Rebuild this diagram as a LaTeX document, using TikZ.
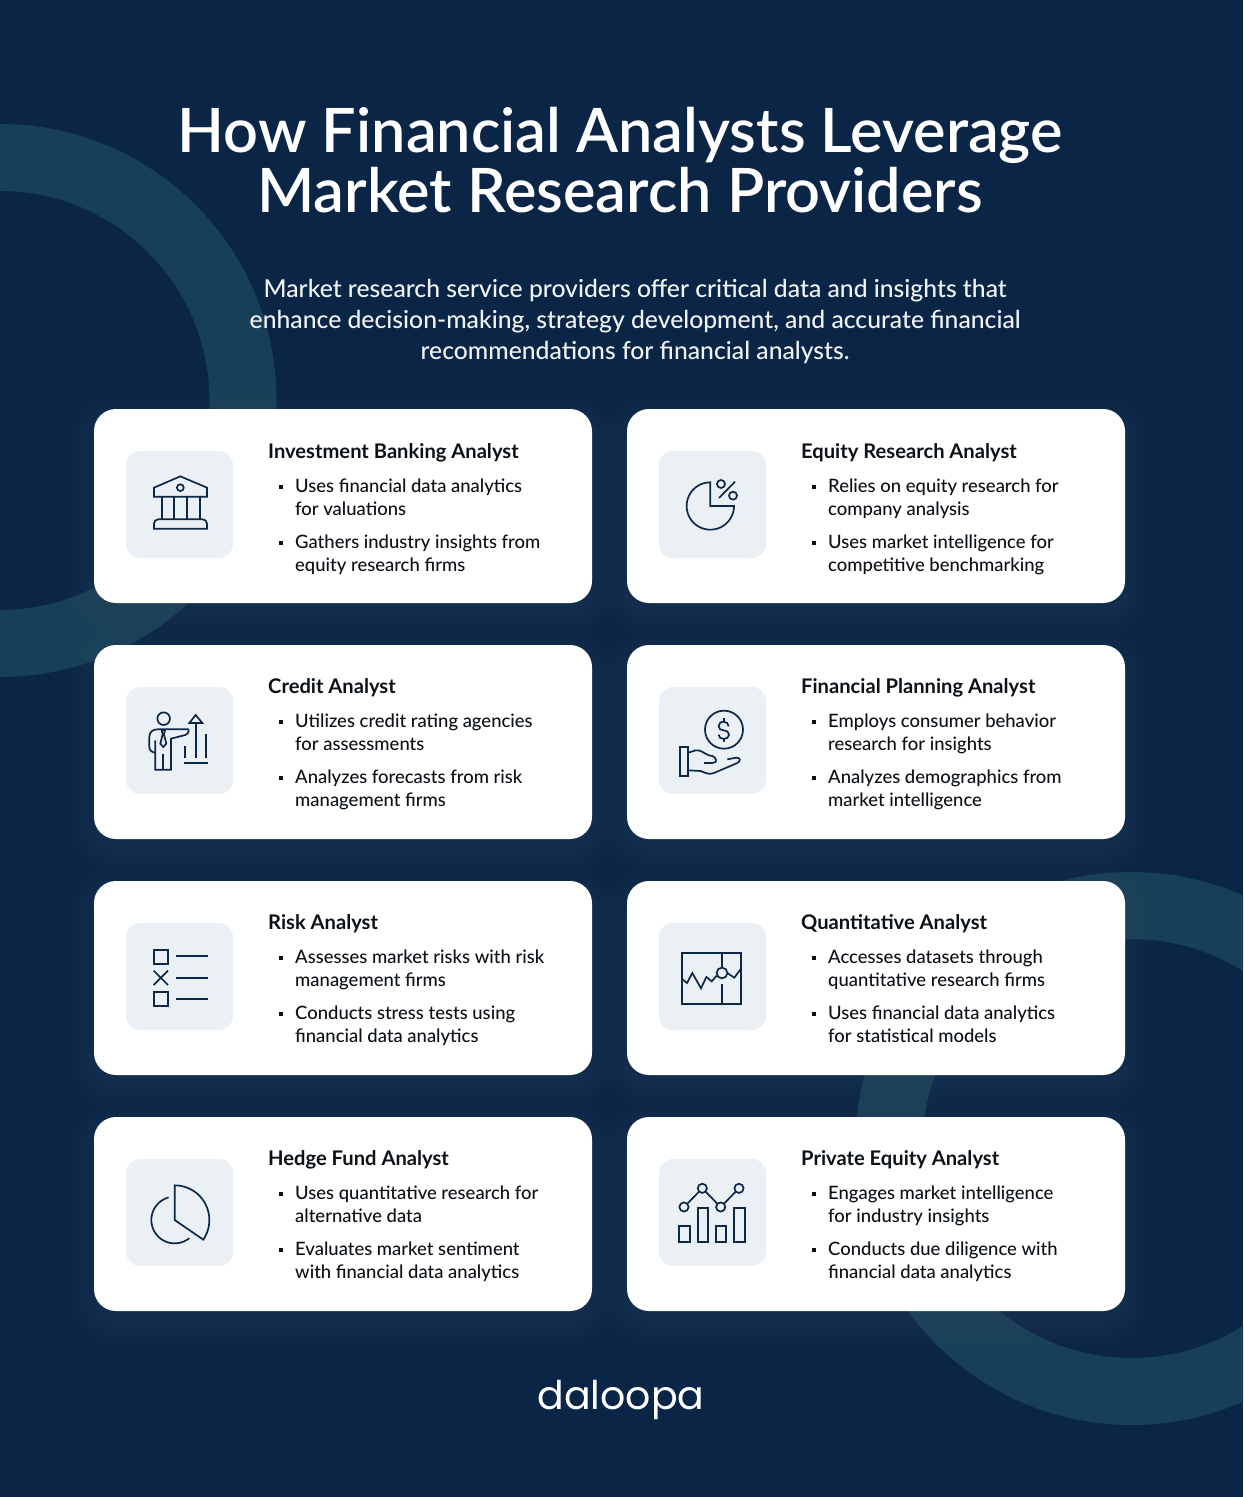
\documentclass[tikz,border=0pt]{standalone}
\usepackage{fontspec}
\setmainfont{Lato Medium}
\newfontfamily\headfont{Lato Bold}
\newfontfamily\titlefont{Lato Semibold}
\newfontfamily\logofont{Poppins}
\definecolor{bgc}{HTML}{0A2545}
\definecolor{ringc}{HTML}{173F58}
\definecolor{glowc}{HTML}{9FC0D0}
\definecolor{tilec}{HTML}{EBF0F4}
\definecolor{inkc}{HTML}{0D2847}
\definecolor{textc}{HTML}{0B1116}
\definecolor{introc}{HTML}{F1F4F6}
\tikzset{
  cardbox/.style={fill=white,rounded corners=22pt,minimum width=498pt,minimum height=194pt,anchor=north west,inner sep=0pt,outer sep=0pt},
  tilebox/.style={fill=tilec,rounded corners=14pt,minimum width=107pt,minimum height=107pt,anchor=north west,inner sep=0pt,outer sep=0pt},
  cardhead/.style={anchor=base west,inner sep=0pt,text=textc,font=\headfont\fontsize{20.15}{24}\selectfont},
  cardline/.style={anchor=base west,inner sep=0pt,text=textc,font=\fontsize{18.45}{22}\selectfont},
  bulletdot/.style={fill=textc,minimum size=3.6pt,inner sep=0pt,outer sep=0pt},
  ico/.style={draw=inkc,line width=1.7pt},
  ringfill/.style={fill=ringc,even odd rule},
  titleline/.style={anchor=base,inner sep=0pt,text=white,font=\titlefont\fontsize{61.2}{61}\selectfont},
  introline/.style={anchor=base,inner sep=0pt,text=introc,font=\fontsize{24.7}{31}\selectfont},
}
\newcommand{\cardglow}[2]{%
  \foreach \g in {-2,2,...,26}{%
    \fill[glowc,opacity=.007,rounded corners={22pt+\g pt}] ({#1-\g},{#2+10-\g}) rectangle ({#1+498+\g},{#2+194+10+\g});
  }%
}
% #9 is the vertical shift of the text within the card
\newcommand{\card}[9]{%
  \node[cardbox] (#1) at (#2,#3) {};
  \node[tilebox] (#1tile) at ({#2+32},{#3+42}) {};
  \node[cardhead] (#1head) at ({#2+174},{#3+49.5+#9}) {#4};
  \node[bulletdot] (#1b1) at ({#2+187},{#3+78+#9}) {};
  \node[cardline] (#1l1) at ({#2+201},{#3+83+#9}) {#5};
  \node[cardline] (#1l2) at ({#2+201},{#3+106+#9}) {#6};
  \node[bulletdot] (#1b2) at ({#2+187},{#3+134+#9}) {};
  \node[cardline] (#1l3) at ({#2+201},{#3+139+#9}) {#7};
  \node[cardline] (#1l4) at ({#2+201},{#3+162+#9}) {#8};
}
\begin{document}
\begin{tikzpicture}[x=1pt,y=-1pt]
\path[use as bounding box,fill=bgc] (0,0) rectangle (1243,1497);
\begin{scope}
\clip (0,0) rectangle (1243,1497);
\fill[ringfill] (0,400.5) circle (276.5pt) (0,400.5) circle (209.5pt);
\fill[ringfill] (1131.5,1148.5) circle (276.5pt) (1131.5,1148.5) circle (209.5pt);
\end{scope}

\node[titleline] (title1) at (620,152) {How Financial Analysts Leverage};
\node[titleline] (title2) at (620,212) {Market Research Providers};

\node[introline] (intro1) at (635,297) {Market research service providers offer critical data and insights that};
\node[introline] (intro2) at (635,328) {enhance decision-making, strategy development, and accurate financial};
\node[introline] (intro3) at (635,359) {recommendations for financial analysts.};

\cardglow{94}{409}\cardglow{627}{409}
\cardglow{94}{645}\cardglow{627}{645}
\cardglow{94}{881}\cardglow{627}{881}
\cardglow{94}{1117}\cardglow{627}{1117}

\card{a}{94}{409}{Investment Banking Analyst}{Uses financial data analytics}{for valuations}{Gathers industry insights from}{equity research firms}{0}
\card{b}{627}{409}{Equity Research Analyst}{Relies on equity research for}{company analysis}{Uses market intelligence for}{competitive benchmarking}{0}
\card{c}{94}{645}{Credit Analyst}{Utilizes credit rating agencies}{for assessments}{Analyzes forecasts from risk}{management firms}{-1}
\card{d}{627}{645}{Financial Planning Analyst}{Employs consumer behavior}{research for insights}{Analyzes demographics from}{market intelligence}{-1}
\card{e}{94}{881}{Risk Analyst}{Assesses market risks with risk}{management firms}{Conducts stress tests using}{financial data analytics}{-1}
\card{f}{627}{881}{Quantitative Analyst}{Accesses datasets through}{quantitative research firms}{Uses financial data analytics}{for statistical models}{-1}
\card{g}{94}{1117}{Hedge Fund Analyst}{Uses quantitative research for}{alternative data}{Evaluates market sentiment}{with financial data analytics}{-1}
\card{h}{627}{1117}{Private Equity Analyst}{Engages market intelligence}{for industry insights}{Conducts due diligence with}{financial data analytics}{-1}

% bank
\begin{scope}[shift={(126,451)},x=.3333pt,y=-.3333pt,ico]
\draw (84,110) -- (163,76) -- (243,110) -- (243,137) -- (84,137) -- cycle;
\draw (163,110) circle (3.4pt);
\draw (108,137) -- (108,205) (145,137) -- (145,205) (182,137) -- (182,205) (221,137) -- (221,205);
\draw (84,233) -- (84,218) .. controls (84,210) and (90,205) .. (97,205) -- (230,205) .. controls (237,205) and (243,210) .. (243,218) -- (243,233) -- cycle;
\end{scope}
% percent pie
\begin{scope}[shift={(659,451)},x=.3333pt,y=-.3333pt,ico]
\draw plot[domain=-90:-360,samples=60,smooth] ({154+71*cos(\x)},{165+71*sin(\x)}) -- (154,165) -- cycle;
\draw (186,99) circle (4pt) (222,134) circle (4pt);
\draw (228,92) -- (180,141);
\end{scope}
% analyst
\begin{scope}[shift={(126,687)},x=.3333pt,y=-.3333pt,ico]
\draw (113,95) circle (6.3pt);
\draw (188,127) -- (95,127) .. controls (80,127) and (70,135) .. (70,150) -- (70,180) .. controls (70,190) and (78,196) .. (88,197);
\draw (88,160) -- (88,248) -- (135,248) -- (135,155) -- (178,144) .. controls (185,142) and (188,137) .. (188,127);
\draw (112,200) -- (112,248);
\draw (107,130) -- (117,130) -- (114,142) -- (121,170) -- (112,180) -- (103,170) -- (110,142) -- cycle;
\draw (190,108) -- (209,84) -- (229,108) -- cycle;
\draw (209,108) -- (209,212) (177,177) -- (177,212) (241,140) -- (241,212) (175,228) -- (245,228);
\end{scope}
% hand with coin
\begin{scope}[shift={(659,687)},x=.3333pt,y=-.3333pt,ico]
\draw (195,128) circle (19pt);
\draw (209,118) .. controls (209,110) and (202,104) .. (194,104) .. controls (184,104) and (179,111) .. (179,118) .. controls (179,126) and (186,130) .. (194,130) .. controls (203,130) and (210,135) .. (210,143) .. controls (210,151) and (203,156) .. (194,156) .. controls (185,156) and (179,150) .. (179,143);
\draw (194,93) -- (194,104) (194,156) -- (194,165);
\draw (63,180) rectangle (88,268);
\draw (88,197) -- (110,190) .. controls (125,187) and (135,200) .. (150,205) -- (160,207) .. controls (172,210) and (178,228) .. (160,228) -- (135,228);
\draw (88,250) -- (125,252) .. controls (140,258) and (150,264) .. (165,258) -- (235,228) .. controls (246,222) and (245,212) .. (232,212) -- (205,217);
\end{scope}
% checklist
\begin{scope}[shift={(126,923)},x=.3333pt,y=-.3333pt,ico]
\draw (83,80) rectangle (125,122);
\draw (83,143) -- (126,186) (126,143) -- (83,186);
\draw (83,207) rectangle (125,249);
\draw (150,100) -- (245,100) (150,164) -- (245,164) (150,228) -- (245,228);
\end{scope}
% market chart
\begin{scope}[shift={(659,923)},x=.3333pt,y=-.3333pt,ico]
\draw (69,89) rectangle (246,243);
\draw (189,89) -- (189,133) (189,184) -- (189,243);
\draw (189,150) circle (5.4pt);
\draw (69,168) -- (84,180) -- (100,150) -- (126,196) -- (142,162) -- (158,175) -- (173,158);
\draw (205,150) -- (226,164) -- (246,137);
\end{scope}
% split pie
\begin{scope}[shift={(126,1159)},x=.3333pt,y=-.3333pt,ico]
\draw plot[domain=-90:34.5,samples=40,smooth] ({146+104*cos(\x)},{183+104*sin(\x)}) -- (146,183) -- cycle;
\draw plot[domain=-105:-309,samples=50,smooth] ({146+70*cos(\x)},{183+70*sin(\x)});
\end{scope}
% bars and line
\begin{scope}[shift={(659,1159)},x=.3333pt,y=-.3333pt,ico]
\draw (75,144) circle (4.6pt) (130,88) circle (4.6pt) (185,144) circle (4.6pt) (240,88) circle (4.6pt);
\draw (85,134) -- (120,98) (140,98) -- (175,134) (195,134) -- (230,98);
\draw (61,202) rectangle (92,249) (117,146) rectangle (148,249) (171,202) rectangle (202,249) (226,146) rectangle (257,249);
\end{scope}

\node[anchor=base,inner sep=0pt,text=white,font=\logofont\fontsize{39.5}{40}\selectfont] (logo) at (621,1409) {daloopa};
\end{tikzpicture}
\end{document}
